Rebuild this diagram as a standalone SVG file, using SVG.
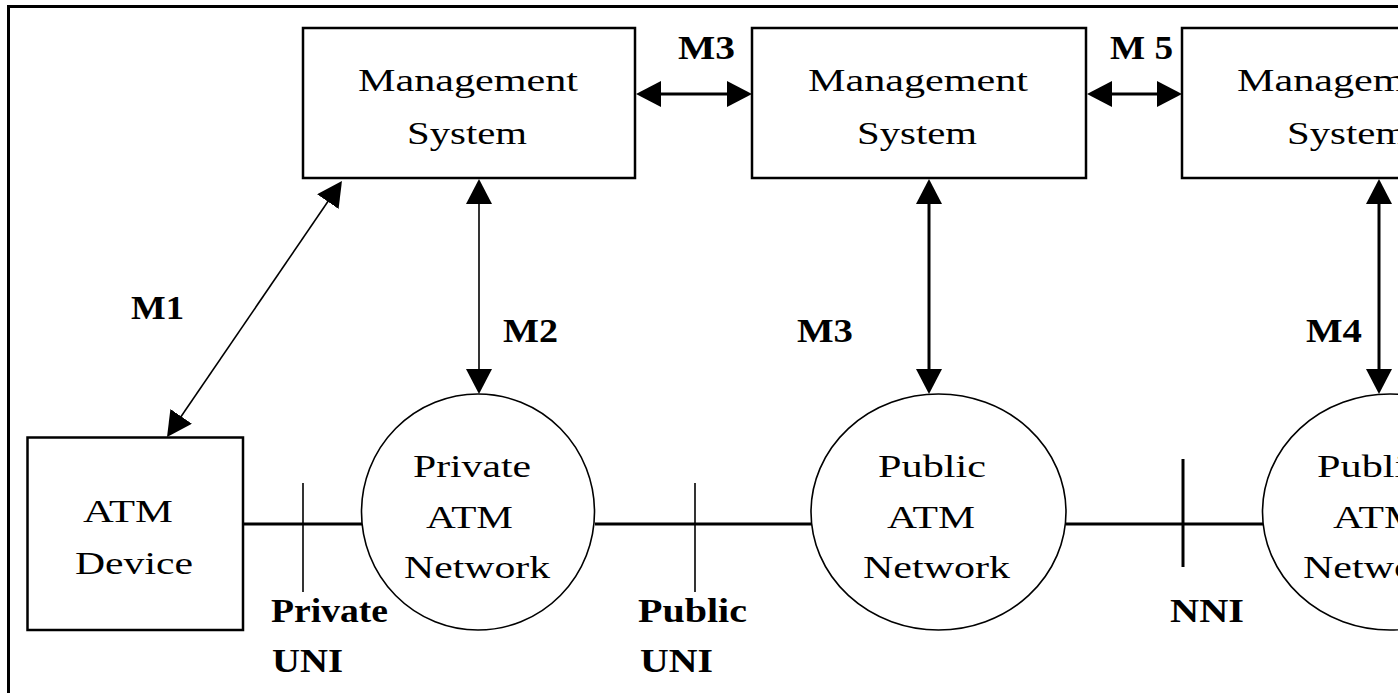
<svg xmlns="http://www.w3.org/2000/svg" width="1398" height="693" viewBox="0 0 1398 693">
<style>
.box{fill:#fff;stroke:#000;stroke-width:2.5}
.net{fill:#fff;stroke:#000;stroke-width:1.6}
.t{font-family:"Liberation Serif","Times New Roman",serif;font-size:32px;fill:#000}
.b{font-family:"Liberation Serif","Times New Roman",serif;font-size:33px;font-weight:bold;fill:#000}
.thin{stroke:#000;stroke-width:1.6;fill:none}
.thick{stroke:#000;stroke-width:3;fill:none}
.arr{marker-start:url(#ah);marker-end:url(#ah)}
</style>
<defs>
<marker id="ah" viewBox="0 0 25 26" refX="21" refY="13" markerWidth="25" markerHeight="26" markerUnits="userSpaceOnUse" orient="auto-start-reverse">
<path d="M0,0 L25,13 L0,26 Z" fill="#000"/>
</marker>
</defs>
<rect x="0" y="0" width="1398" height="693" fill="#fff"/>
<rect x="8.5" y="6.5" width="1500" height="800" fill="none" stroke="#000" stroke-width="3"/>

<g id="connectors">
<line class="thick" x1="243" y1="524" x2="362" y2="524"/>
<line class="thick" x1="595" y1="524" x2="812" y2="524"/>
<line class="thick" x1="1066" y1="524" x2="1264" y2="524"/>
<line class="thin" x1="303" y1="483" x2="303" y2="592"/>
<line class="thin" x1="695" y1="483" x2="695" y2="592"/>
<line class="thick" x1="1183" y1="459" x2="1183" y2="567"/>
<line class="thick arr" x1="640" y1="94" x2="748" y2="94"/>
<line class="thick arr" x1="1091" y1="94" x2="1178" y2="94"/>
<line class="thin arr" x1="479" y1="183" x2="479" y2="390"/>
<line class="thick arr" x1="929" y1="183" x2="929" y2="390"/>
<line class="thick arr" x1="1379" y1="183" x2="1379" y2="390"/>
<line class="thin arr" x1="169.3" y1="433.7" x2="339.7" y2="184.3"/>
<text class="b" x="678" y="59" textLength="57" lengthAdjust="spacingAndGlyphs">M3</text>
<text class="b" x="1110" y="59" textLength="63" lengthAdjust="spacingAndGlyphs">M 5</text>
<text class="b" x="131" y="319" textLength="53" lengthAdjust="spacingAndGlyphs">M1</text>
<text class="b" x="503" y="342" textLength="55" lengthAdjust="spacingAndGlyphs">M2</text>
<text class="b" x="797" y="342" textLength="56" lengthAdjust="spacingAndGlyphs">M3</text>
<text class="b" x="1306" y="342" textLength="56" lengthAdjust="spacingAndGlyphs">M4</text>
<text class="b" x="271" y="622" textLength="117" lengthAdjust="spacingAndGlyphs">Private</text>
<text class="b" x="272" y="672" textLength="71" lengthAdjust="spacingAndGlyphs">UNI</text>
<text class="b" x="638" y="622" textLength="109" lengthAdjust="spacingAndGlyphs">Public</text>
<text class="b" x="640" y="672" textLength="73" lengthAdjust="spacingAndGlyphs">UNI</text>
<text class="b" x="1170" y="622" textLength="74" lengthAdjust="spacingAndGlyphs">NNI</text>
</g>

<g id="ms1">
<rect class="box" x="303" y="28" width="332" height="150"/>
<text class="t" x="358" y="91" textLength="220" lengthAdjust="spacingAndGlyphs">Management</text>
<text class="t" x="407" y="144" textLength="120" lengthAdjust="spacingAndGlyphs">System</text>
</g>
<g id="ms2">
<rect class="box" x="752" y="28" width="334" height="150"/>
<text class="t" x="808" y="91" textLength="220" lengthAdjust="spacingAndGlyphs">Management</text>
<text class="t" x="857" y="144" textLength="120" lengthAdjust="spacingAndGlyphs">System</text>
</g>
<g id="ms3">
<rect class="box" x="1182" y="28" width="333" height="150"/>
<text class="t" x="1237" y="91" textLength="220" lengthAdjust="spacingAndGlyphs">Management</text>
<text class="t" x="1287" y="144" textLength="120" lengthAdjust="spacingAndGlyphs">System</text>
</g>
<g id="atmdevice">
<rect class="box" x="27.5" y="437.5" width="215.5" height="192.5"/>
<text class="t" x="83" y="522" textLength="90" lengthAdjust="spacingAndGlyphs">ATM</text>
<text class="t" x="75" y="574" textLength="118" lengthAdjust="spacingAndGlyphs">Device</text>
</g>
<g id="private-net">
<ellipse class="net" cx="478" cy="512" rx="116.5" ry="118"/>
<text class="t" x="413" y="477" textLength="118" lengthAdjust="spacingAndGlyphs">Private</text>
<text class="t" x="426" y="528" textLength="87" lengthAdjust="spacingAndGlyphs">ATM</text>
<text class="t" x="404" y="578" textLength="146" lengthAdjust="spacingAndGlyphs">Network</text>
</g>
<g id="public-net1">
<ellipse class="net" cx="938.5" cy="512" rx="127.5" ry="118"/>
<text class="t" x="878" y="477" textLength="108" lengthAdjust="spacingAndGlyphs">Public</text>
<text class="t" x="887" y="528" textLength="88" lengthAdjust="spacingAndGlyphs">ATM</text>
<text class="t" x="863" y="578" textLength="147" lengthAdjust="spacingAndGlyphs">Network</text>
</g>
<g id="public-net2">
<ellipse class="net" cx="1390" cy="512" rx="127.5" ry="118"/>
<text class="t" x="1317" y="477" textLength="108" lengthAdjust="spacingAndGlyphs">Public</text>
<text class="t" x="1333" y="528" textLength="88" lengthAdjust="spacingAndGlyphs">ATM</text>
<text class="t" x="1303" y="578" textLength="147" lengthAdjust="spacingAndGlyphs">Network</text>
</g>
</svg>
